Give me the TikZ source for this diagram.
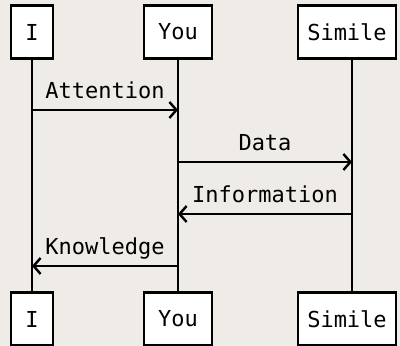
\documentclass[tikz,border=0pt]{standalone}
\usepackage{fontspec}
\setmonofont{DejaVu Sans Mono}
\usetikzlibrary{arrows.meta,calc}
\definecolor{paper}{RGB}{239,235,231}

\begin{document}
\begin{tikzpicture}[x=1pt,y=1pt,
  actor/.style={draw, line width=2.4pt, fill=white, minimum height=53pt, inner sep=0pt,
    font=\ttfamily\fontsize{22}{24}\selectfont},
  msg/.style={line width=2.4pt, -{Straight Barb[length=7pt,width=16pt,line width=2.4pt]}},
  lbl/.style={midway, anchor=base, yshift=11pt, inner sep=0pt,
    font=\ttfamily\fontsize{22}{24}\selectfont}]
\fill[paper] (0,0) rectangle (400,346);
\useasboundingbox (0,0) rectangle (400,346);
% actors on top
\node[actor, minimum width=42pt] (i1) at (32,314) {I};
\node[actor, minimum width=68pt] (you1) at (178,314) {You};
\node[actor, minimum width=98pt] (sim1) at (347,314) {Simile};
% actors at the bottom
\node[actor, minimum width=42pt] (i2) at (32,27) {I};
\node[actor, minimum width=68pt] (you2) at (178,27) {You};
\node[actor, minimum width=98pt] (sim2) at (347,27) {Simile};
% lifelines
\draw[line width=2.4pt] (i1) -- (i2);
\draw[line width=2.4pt] (you1) -- (you2);
\draw[line width=2.4pt] ($(sim1.south)+(5,0)$) -- ($(sim2.north)+(5,0)$);
% points on the lifelines, one row per message
\foreach \y/\n in {236/1,184/2,132/3,80/4}
{
\coordinate (i-\n) at (32,\y);
\coordinate (you-\n) at (178,\y);
\coordinate (sim-\n) at (352,\y);
}
% messages
\draw[msg] (i-1) -- node[lbl] {Attention} (you-1);
\draw[msg] (you-2) -- node[lbl] {Data} (sim-2);
\draw[msg] (sim-3) -- node[lbl] {Information} (you-3);
\draw[msg] (you-4) -- node[lbl] {Knowledge} (i-4);

\end{tikzpicture}
\end{document}
